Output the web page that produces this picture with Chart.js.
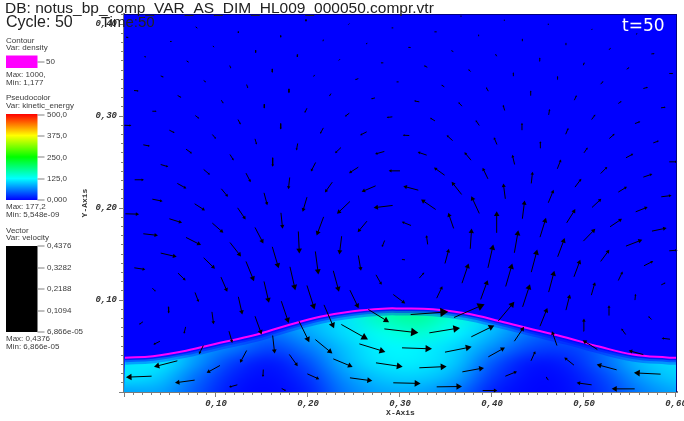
<!DOCTYPE html>
<html><head><meta charset="utf-8">
<style>html,body{margin:0;padding:0;background:#fff}canvas{display:block}</style>
<script src="https://cdn.jsdelivr.net/npm/chart.js@4/dist/chart.umd.min.js"></script>
</head><body><canvas id="c" width="684" height="421"></canvas>
<script>
// Axis ticks
const xTickValues = [0.10,0.20,0.30,0.40,0.50,0.60];
const xTickLabels = ['0,10','0,20','0,30','0,40','0,50','0,60'];
const yTickValues = [0.10,0.20,0.30,0.40];
const yTickLabels = ['0,10','0,20','0,30','0,40'];

// Contour density=50: the interface, in plot units (thousandths)
const interfaceX = [1,31.5,68.5,104.4,140.2,177.2,213,248.9,285.9,300,335.9,372.8,408.7,444.6,481.5,517.4,553.3,590.2,601];
const interfaceY = [37.2,38.9,45.1,53.5,61.4,72.3,81.7,87.8,90.8,90.8,90,85.3,77,67.9,58.9,49.1,40.8,37.5,37.2];

// Pseudocolor kinetic_energy
const fieldX = [0,.04,.08,.12,.16,.20,.24,.28,.32,.36,.40,.44,.48,.52,.56,.60];
const fieldY = [0,.016,.032,.048,.064,.08,.096];
const keRow0 = [80,80,40,8,3,15,60,82,82,60,15,3,5,25,60,82];
const keRow1 = [112,98,52,14,5,24,72,98,102,82,28,5,7,33,76,100];
const keRow2 = [112,115,72,28,11,38,88,114,116,98,44,11,14,48,92,108];
const keRow3 = [112,115,80,58,33,60,96,120,120,105,70,36,30,50,92,108];
const keRow4 = [112,115,80,70,55,82,108,134,148,120,90,56,40,50,92,108];
const keRow5 = [112,115,80,70,70,90,112,158,172,142,100,66,45,50,92,108];
const keRow6 = [112,115,80,70,70,90,112,158,172,142,100,66,45,50,92,108];
const keRows = [keRow0,keRow1,keRow2,keRow3,keRow4,keRow5,keRow6];

// Velocity glyphs: tail position and displacement, thousandths of a plot unit
const arrowX = [
77.9,124.3,170.3,197.8,245,292.7,50,96.7,143.1,188.8,216.7,264.5,22.1,68.1,114.9,161.2,207.2,234.8,281.9,39.9,86.6,133.3,179.3,225,254.7,298.5,10.9,58.3,105.8,152.5,198.9,244.9,272.8,30.8,77.5,123.9,170.3,216.7,263.8,291.7,0.4,49.3,96,142.4,2.2,
21,67.4,115.2,188.8,235.9,283,39.9,86.6,132.6,161.6,208.3,254.7,300,11.6,58,105.8,152.2,180.1,226.4,273.5,30.8,76.8,123.5,170.6,198.9,245.6,292,1.5,49.3,96,142.4,189.5,217,264.1,21,67.4,115.2,161.2,208,236.6,283.3,39.9,86.6,132.6,180.4,254.7,11.2,58.7,105.4,152.2,227.5,273.9,30.8,77.2,124.3,198.9,245.6,292.7,
48.2,95.6,142.4,171,217.4,190.2,20.6,67,114.1,39.1,86.2,58,133.3,161.6,208,236.2,265.6,255.8,283,273.9,104.3,179.7,227.5,30,76.8,151.4,199.3,245.6,292.7,123.2,171.4,
311.6,358.7,406.9,452.2,433.3,480.4,527.2,499.3,545.3,593.5,573.5,331.9,377.5,424.3,470.6,514.5,564.5,302.2,348.9,396,442.4,489.1,535.5,583.3,321,367.8,414.5,461.2,508.3,555.1,339.9,389.9,
329,377.2,424.6,452.9,500,545.6,592.7,348.5,395.6,442.7,471,518.1,564.5,319.9,367,414.5,461.2,490.2,537.3,584,312,338.8,386.2,433,481.2,508.7,556.2,358.3,405.1,452.2,499.3,528.3,573.9,330.1,376.4,424.3,471.4,518.1,545.6,592.7,348.9,395.6,442.7,489.1,565.2,367.4,414.9,461.6,537.3,584,305.4,321,339.9,387.7,508,555.4,
366.3,413.4,461.2,508.3,556.5,339.9,385.5,433,480.4,527.2,573.2,311.6,358,405.1,451.4,499.3,546.4,592.7,329.7,376.8,423.2,471,518.1,564.5,348.2,396,442.4,489.5,537.3,583.7,321,367.4,413.8,461.6,508.3,555.4,338,386.2,432.6,480.1,527.5,575.3,310.1,357.2,405.4
];
const arrowY = [
396.9,391.8,387.5,404.9,400.5,395.8,381,376.2,371.5,366.8,383.1,379.1,364.6,359.9,354.9,351.2,344.7,361.8,357.8,343.6,338.6,334.2,329.5,324.4,340.7,337.1,327.7,322.3,317.2,312.8,308.5,303.1,319.7,305.2,300.5,296.2,291.8,287.1,282.8,299.1,290,284.6,279.9,275.2,385.7,
268.7,264,258.2,270.2,265.8,261.5,247.3,241.9,237.9,254.6,249.5,244.4,240.4,230.7,226.7,220.9,216.5,233.2,228.1,224.1,209.6,204.6,200.2,194.8,211.8,207.1,202.8,193.7,188.3,183.6,178.9,174.5,190.4,185.7,172,168,162.5,157.8,152.8,169.4,164.7,151,145.9,141.9,136.1,148.4,135,129.2,124.9,120.2,131.8,127.4,112.9,108.2,103.5,115.8,110.7,106,
92.6,87.1,82.4,98.7,94.7,77,76.3,70.8,66.1,55.2,50.5,33.9,45.1,61.4,57,73.4,89.7,52.3,68.6,31.7,28.8,40.8,36,17.2,12.9,24.4,19.7,15.4,10,7.8,3.8,
84.2,81,77.3,71.5,92.6,89,83.1,66.1,62.5,57.4,78.8,64.3,60,55.2,50.5,46.2,40.7,48,43.3,38.2,33.9,29.2,24.1,19.4,26.3,21.9,17.2,12.9,7.8,3.4,5.6,1.6,
257.5,252,247.3,265.1,260,254.6,250.2,235.7,231.7,226.7,242.6,237.5,233.6,219.4,214.7,210,205.7,222.7,217.3,212.2,181,198.4,194.1,188.3,183.9,200.6,195.9,177.8,173,168.3,164,179.6,174.9,160.4,155.7,151.3,147,141.9,158.6,153.5,139.7,135,130.3,125.2,137.2,118.3,114.7,108.6,121.2,116.5,143.7,123.8,102,100.6,105.3,99.9,
407.8,403.4,399,393.6,388.9,391.5,386.7,381.3,377,371.9,367.5,374.4,370,365,359.6,355.2,350.9,346.2,353,348.3,343.3,339.6,334.6,329.9,331.7,327,322.3,317.2,313.6,308.9,315.4,310.7,306,301.2,296.2,291.8,294.7,289.7,284.6,280.2,275.5,270.8,278.8,273.3,269
];
const arrowU = [
1.8,0,0,0,-1.1,-1.8,1.8,1.1,0,-.4,-.4,-1.4,1.8,2.2,1.4,0,-1.1,-1.4,-2.9,3.3,2.5,1.4,0,-1.8,-3.6,-2.2,5.1,4,2.2,0,-2.5,-4.7,-4.3,4.7,4.3,2.9,0,-3.6,-7.2,-6.2,7.6,5.8,4,1.8,2.9,
7.2,6.5,4,-1.4,-6.5,-10.1,8.3,6.9,5.1,0,-5.1,-10.1,-12.3,10.1,9.8,7.2,3.6,-1.4,-8,-15.2,11.2,11.2,8.7,1.8,-4.7,-14.1,-20.7,14.9,13.8,12,9.1,1.1,-7.6,-10.1,15.9,16.3,12,6.9,3.3,-2.5,-2.9,17.4,12.3,8.7,5.8,2.9,12,8.3,6.9,5.4,6.2,6.2,3.6,4,4.3,8.3,9.4,13,
.4,1.8,7.2,8,10.9,11.2,-4.3,-1.8,3.6,-7.2,-4.7,-25.4,-7.2,2.2,18.5,29,22.5,28.3,37,29,-14.5,9.1,21,-27.9,-21.4,-.4,13,24.3,29.7,-9.1,4.7,
40.9,33.3,17.4,8,8,4.3,0,.7,-4.7,-9.1,-3.6,33.3,25,10.5,-5.4,-15.9,-15.9,32.6,29,18.1,4.7,-10.5,-21.7,-29,29.7,23.5,12.7,-2.5,-16.3,-25,27.5,15.9,
-9.8,-7.2,-2.5,-.4,4,8,8.7,-11.6,-5.8,1.4,4,7.2,9.8,-16.3,-10.9,-2.2,5.8,6.9,9.4,11.2,-10.1,-15.9,-8.7,2.5,9.4,10.1,13,-5.8,0,6.5,13,13,15.9,-1.4,1.4,4.3,7.6,9.4,17.8,9.1,4.3,5.8,6.5,6.9,10.1,7.2,7.2,6.2,4.7,4.7,-3.6,5.4,6.2,7.6,4,.7,
0,0,0,.7,1.4,-2.5,0,0,0,1.8,3.6,-2.9,-2.2,-1.4,.7,1.1,2.9,4.3,-3.6,-2.5,0,.4,2.9,5.1,-3.3,-2.5,-.4,2.5,3.6,5.1,-5.8,-4,-1.8,1.1,4,5.8,-5.4,-4,0,2.9,5.8,6.2,-7.2,-6.5,-3.3
];
const arrowV = [
-1.4,-1.4,-1.8,-1.8,-1.1,0,0,-1.4,-2.5,-2.5,-1.8,-.7,-.4,-1.4,-3.3,-4.3,-1.8,-1.4,0,-1.4,-1.8,-4,-4.7,-2.9,-1.4,0,-.4,-2.2,-3.6,-4.7,-5.1,-3.6,-1.1,0,-3.3,-5.4,-6.5,-6.5,-3.6,-.7,-.4,-2.9,-4.7,-6.2,-.4,
-1.4,-4.7,-6.5,-7.6,-6.2,-2.9,-2.5,-5.8,-9.8,-9.8,-9.8,-6.5,0,0,-5.4,-8.7,-13.4,-12.7,-11.2,-6.5,-2.2,-7.2,-12.7,-17.4,-15.9,-13.4,-2.5,-.4,-4.3,-10.5,-17.4,-23.9,-20.3,-12,-1.8,-8.3,-15.2,-23.2,-25,-19.9,-7.2,-4,-12,-21.4,-25.4,-16.7,-1.8,-8,-15.9,-23.2,-22.8,-10.9,-3.6,-10.5,-19.2,-26.1,-19.6,-9.8,
-7.2,-13.4,-19.9,-23.6,-25.4,-22.8,-2.9,-7.6,-12.7,-3.6,-9.4,-6.5,-13.4,-19.6,-15.2,-16.3,-13.8,-8.7,-4.3,-4.3,-8,-12.7,-8.7,-1.1,-2.9,-8,-5.8,-3.3,-.7,-2.5,-2.5,
2.9,14.5,20.7,19.9,24.6,17,11.2,13.8,6.5,1.1,3.6,5.4,12.3,15.6,15.6,10.1,4.3,-1.1,5.8,10.1,10.5,8.3,5.8,1.4,1.4,4.3,5.1,3.6,2.2,0,.4,0,
3.3,8.7,10.5,7.6,5.8,4.3,0,8.3,12,12.7,10.1,7.2,3.3,4.3,13.8,16.7,14.1,9.1,5.8,1.4,4,10.9,18.8,19.9,14.9,9.4,5.1,17,23.5,21,13.4,8.7,3.3,10.1,22.1,24.6,20.3,12.7,6.9,.7,15.9,25.4,24.6,18.5,5.1,21.4,25,23.2,9.8,2.2,.4,6.2,13,21,14.1,6.9,
1.4,1.4,1.4,1.1,.7,0,1.8,2.9,2.5,2.2,.4,.4,1.1,2.5,4,3.3,1.8,0,1.8,2.5,4.3,4,3.3,1.4,2.2,4.3,5.4,5.4,2.5,.7,1.1,4.3,6.2,6.5,5.4,2.2,3.3,5.8,8,6.9,5.1,2.2,.4,5.8,8
];

// Legend annotation values
const contourLabels = ['50'];
const keBarLabels = ['500,0','375,0','250,0','125,0','0,000'];
const velBarLabels = ['0,4376','0,3282','0,2188','0,1094','6,866e-05'];

function keColor(v){
  const t=v/125;
  if(t<=1) return [0,255*t,255];
  if(t<=2) return [0,255,255*(2-t)];
  if(t<=3) return [255*(t-2),255,0];
  return [255,255*(4-t),0];
}

const arrowPts=[], arrowRad=[], arrowRot=[];
const PX_PER_MILLI=0.92;
for(let i=0;i<arrowX.length;i++){
  const x=arrowX[i]/1000,y=arrowY[i]/1000,u=arrowU[i]/1000,v=arrowV[i]/1000;
  const len=Math.hypot(arrowU[i],arrowV[i])*PX_PER_MILLI;
  const rot=Math.atan2(u,v)*180/Math.PI;
  const rad=len<2.5?0:len*0.13+0.4;
  const f=len>0?1-rad/len:1;
  arrowPts.push({x,y}); arrowRad.push(0); arrowRot.push(0);
  arrowPts.push({x:x+u*f,y:y+v*f}); arrowRad.push(rad); arrowRot.push(rot);
  arrowPts.push({x:x+u,y:NaN}); arrowRad.push(0); arrowRot.push(0);
}

const GRAY='#808080';
const TEXT='#3a3a3a';
function tickLabeller(vals,labels){
  return v=>{const i=vals.findIndex(t=>Math.abs(t-v)<1e-6);return i<0?'':labels[i];};
}

const paintField={
  id:'paintField',
  beforeDatasetsDraw(chart){
    const {ctx,chartArea:a,scales:{x,y}}=chart;
    ctx.save();
    ctx.fillStyle='rgb(0,0,255)';
    ctx.fillRect(a.left,a.top,a.right-a.left,a.bottom-a.top);
    const off=document.createElement('canvas');
    const nx=fieldX.length,ny=fieldY.length;
    off.width=nx;off.height=ny;
    const oc=off.getContext('2d');
    const img=oc.createImageData(nx,ny);
    keRows.forEach((r,j)=>r.forEach((v,i)=>{
      const c=keColor(v),p=((ny-1-j)*nx+i)*4;
      img.data[p]=c[0];img.data[p+1]=c[1];img.data[p+2]=c[2];img.data[p+3]=255;
    }));
    oc.putImageData(img,0,0);
    const dx=fieldX[1]-fieldX[0],dy=fieldY[1]-fieldY[0];
    const l=x.getPixelForValue(fieldX[0]-dx/2),r=x.getPixelForValue(fieldX[nx-1]+dx/2);
    const t=y.getPixelForValue(fieldY[ny-1]+dy/2),b=y.getPixelForValue(fieldY[0]-dy/2);
    const line=chart.getDatasetMeta(0).dataset;
    ctx.beginPath();ctx.rect(a.left,a.top,a.right-a.left,a.bottom-a.top);ctx.clip();
    ctx.beginPath();line.path(ctx);ctx.lineTo(a.right,a.bottom);ctx.lineTo(a.left,a.bottom);ctx.closePath();ctx.clip();
    ctx.imageSmoothingEnabled=true;ctx.imageSmoothingQuality='high';
    ctx.drawImage(off,l,t,r-l,b-t);
    [[14,.3],[9,.4],[5,.7]].forEach(([w,al])=>{
      ctx.beginPath();line.path(ctx);ctx.lineWidth=w;ctx.strokeStyle='rgba(0,0,255,'+al+')';ctx.stroke();
    });
    ctx.restore();
  },
  afterDraw(chart){
    const {ctx,chartArea:a}=chart;
    ctx.save();
    ctx.strokeStyle='rgb(0,0,130)';ctx.lineWidth=1;
    ctx.beginPath();ctx.moveTo(a.left,a.top+.5);ctx.lineTo(a.right-.5,a.top+.5);ctx.lineTo(a.right-.5,a.bottom);ctx.stroke();
    const txt=(s,x,y,font,col)=>{ctx.font=font;ctx.fillStyle=col;ctx.textBaseline='middle';ctx.textAlign='left';ctx.fillText(s,x,y);};
    const HEAD='"Liberation Sans"';
    ctx.textBaseline='alphabetic';
    ctx.font='15.5px '+HEAD;ctx.fillStyle='#222';ctx.textAlign='left';
    ctx.fillText('DB: notus_bp_comp_VAR_AS_DIM_HL009_000050.compr.vtr',5,13);
    ctx.font='16px '+HEAD;
    ctx.fillText('Cycle: 50',6,27);
    ctx.font='15px '+HEAD;
    ctx.fillText('Time:50',101,27);
    ctx.font='17px "DejaVu Sans"';ctx.fillStyle='#fff';
    ctx.fillText('t=50',622,31);
    const L='8px '+HEAD;
    txt('Contour',6,40.5,L,TEXT);txt('Var: density',6,48,L,TEXT);
    ctx.fillStyle='#ff00ff';ctx.fillRect(6,55.5,31.5,12.5);
    ctx.fillStyle=GRAY;ctx.fillRect(37.5,61.5,7,1);
    txt(contourLabels[0],46,62,L,TEXT);
    txt('Max: 1000,',6,75,L,TEXT);txt('Min: 1,177',6,82.3,L,TEXT);
    txt('Pseudocolor',6,98,L,TEXT);txt('Var: kinetic_energy',6,106,L,TEXT);
    const g=ctx.createLinearGradient(0,114,0,200);
    g.addColorStop(0,'#ff0000');g.addColorStop(.25,'#ffff00');g.addColorStop(.5,'#00ff00');g.addColorStop(.75,'#00ffff');g.addColorStop(1,'#0000ff');
    ctx.fillStyle=g;ctx.fillRect(6,114,31.5,86);
    keBarLabels.forEach((s,i)=>{const yy=114.5+i*21.4;ctx.fillStyle=GRAY;ctx.fillRect(37.5,Math.round(yy)-.5,7,1);txt(s,47,yy,L,TEXT);});
    txt('Max: 177,2',6,207,L,TEXT);txt('Min: 5,548e-09',6,214.5,L,TEXT);
    txt('Vector',6,230.5,L,TEXT);txt('Var: velocity',6,238,L,TEXT);
    ctx.fillStyle='#000';ctx.fillRect(6,246,31.5,86);
    velBarLabels.forEach((s,i)=>{const yy=246+i*21.5;ctx.fillStyle=GRAY;ctx.fillRect(37.5,Math.round(yy)-.5,7,1);txt(s,47,yy,L,TEXT);});
    txt('Max: 0,4376',6,339,L,TEXT);txt('Min: 6,866e-05',6,347,L,TEXT);
    ctx.restore();
  }
};

const tickFont={family:'"Liberation Mono"',size:9,weight:'bold',style:'italic'};
const titleFont={family:'"Liberation Mono"',size:8,weight:'bold'};
new Chart(document.getElementById('c'),{
  type:'scatter',
  data:{datasets:[
    {type:'line',label:'density contour',
     data:interfaceX.map((x,i)=>({x:x/1000,y:interfaceY[i]/1000})),
     borderColor:'#ff00ff',borderWidth:2,pointRadius:0,tension:.4,fill:false,order:2},
    {type:'line',label:'velocity',data:arrowPts,showLine:true,spanGaps:false,
     borderColor:'#000',borderWidth:1,backgroundColor:'#000',tension:0,order:1,
     pointStyle:'triangle',pointBackgroundColor:'#000',pointBorderColor:'#000',pointBorderWidth:0,
     pointRadius:c=>arrowRad[c.dataIndex],pointRotation:c=>arrowRot[c.dataIndex],pointHoverRadius:0,clip:false}
  ]},
  plugins:[paintField],
  options:{
    responsive:false,animation:false,events:[],
    layout:{padding:{top:14,right:7,bottom:0,left:0}},
    plugins:{legend:{display:false},tooltip:{enabled:false},title:{display:false}},
    scales:{
      x:{type:'linear',position:'bottom',weight:1,min:0,max:.6011,
        border:{display:true,color:'#7a7a7a',width:2},
        grid:{drawOnChartArea:false,tickLength:5,tickColor:GRAY},
        ticks:{stepSize:.1,autoSkip:false,includeBounds:false,maxRotation:0,padding:1,color:'#333',font:tickFont,callback:tickLabeller(xTickValues,xTickLabels)},
        title:{display:true,text:'X-Axis',color:'#333',font:titleFont,padding:{top:0,bottom:3}},
        afterFit(s){s.height=29;s.paddingLeft=0;s.paddingRight=0;}},
      y:{type:'linear',position:'left',weight:1,min:0,max:.4109,
        border:{display:true,color:'#7a7a7a',width:2},
        grid:{drawOnChartArea:false,tickLength:5,tickColor:GRAY},
        ticks:{stepSize:.1,autoSkip:false,includeBounds:false,padding:2,color:'#333',font:tickFont,callback:tickLabeller(yTickValues,yTickLabels)},
        title:{display:true,text:'Y-Axis',color:'#333',font:titleFont,padding:{top:80,bottom:0}},
        afterFit(s){s.width=124;s.paddingTop=0;s.paddingBottom=0;}},
      xm:{type:'linear',axis:'x',position:'bottom',weight:0,min:0,max:.6011,
        border:{display:false},
        grid:{drawOnChartArea:false,tickLength:3,tickColor:GRAY},
        ticks:{stepSize:.01,autoSkip:false,includeBounds:false,maxRotation:0,font:{size:1},callback:()=>''},
        afterFit(s){s.height=0;s.paddingLeft=0;s.paddingRight=0;}},
      ym:{type:'linear',axis:'y',position:'left',weight:0,min:0,max:.4109,
        border:{display:false},
        grid:{drawOnChartArea:false,tickLength:3,tickColor:GRAY},
        ticks:{stepSize:.01,autoSkip:false,includeBounds:false,font:{size:1},callback:()=>''},
        afterFit(s){s.width=0;s.paddingTop=0;s.paddingBottom=0;}}
    }
  }
});
</script></body></html>
